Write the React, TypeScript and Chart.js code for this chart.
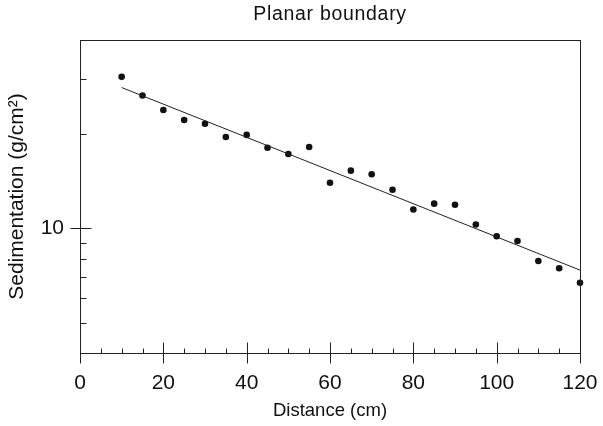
import React, { useEffect, useRef } from "react";
import { Chart, registerables } from "chart.js";

Chart.register(...registerables);

// ---- data ----
const distances = [10, 15, 20, 25, 30, 35, 40, 45, 50, 55, 60, 65, 70, 75, 80, 85, 90, 95, 100, 105, 110, 115, 120];
const sedimentation = [30.5, 26.6, 23.9, 22.2, 21.6, 19.6, 19.9, 18.1, 17.3, 18.2, 14.0, 15.3, 14.9, 13.3, 11.5, 12.0, 11.9, 10.3, 9.44, 9.12, 7.87, 7.46, 6.71];
const fitX = [10, 120];
const fitY = [28.2, 7.36];

const xMajorTicks = [0, 20, 40, 60, 80, 100, 120];
const xMinorTicks = [5, 10, 15, 25, 30, 35, 45, 50, 55, 65, 70, 75, 85, 90, 95, 105, 110, 115];
const yMajorTicks = [10];
const yMinorTicks = [5, 6, 7, 8, 9, 20, 30];

const titleText = "Planar boundary";
const xTitle = "Distance (cm)";
const yTitle = "Sedimentation (g/cm²)";

const FONT = "'Liberation Sans', Arial, Helvetica, sans-serif";
const INK = "#111";

const frameTicks = {
  id: "frameTicks",
  beforeDraw(chart: any) {
    const tb = chart.titleBlock;
    if (tb && !tb.__spaced) {
      const orig = tb.draw;
      tb.draw = function (...args: any[]) {
        const c = chart.ctx as any;
        const prev = c.letterSpacing;
        c.letterSpacing = "0.7px";
        orig.apply(this, args);
        c.letterSpacing = prev || "0px";
      };
      tb.__spaced = true;
    }
  },
  afterDatasetsDraw(chart: any) {
    const { ctx, chartArea: a, scales } = chart;
    const x = scales.x;
    const y = scales.y;
    const r = (v: number) => Math.round(v) + 0.5;
    ctx.save();
    ctx.strokeStyle = "#222";
    ctx.lineWidth = 1;
    ctx.strokeRect(r(a.left), r(a.top), Math.round(a.right) - Math.round(a.left), Math.round(a.bottom) - Math.round(a.top));
    ctx.beginPath();
    const bot = r(a.bottom);
    const lft = r(a.left);
    for (const v of xMajorTicks) {
      const px = r(x.getPixelForValue(v));
      ctx.moveTo(px, bot - 11);
      ctx.lineTo(px, bot + 10);
    }
    for (const v of xMinorTicks) {
      const px = r(x.getPixelForValue(v));
      ctx.moveTo(px, bot - 5);
      ctx.lineTo(px, bot);
    }
    for (const v of yMajorTicks) {
      const py = r(y.getPixelForValue(v));
      ctx.moveTo(lft - 10, py);
      ctx.lineTo(lft + 11, py);
    }
    for (const v of yMinorTicks) {
      const py = r(y.getPixelForValue(v));
      ctx.moveTo(lft, py);
      ctx.lineTo(lft + 6, py);
    }
    ctx.stroke();
    ctx.restore();
  },
};

export default function App() {
  const ref = useRef<HTMLCanvasElement | null>(null);

  useEffect(() => {
    if (!ref.current) return;
    const chart = new Chart(ref.current, {
      type: "scatter",
      data: {
        datasets: [
          {
            label: "fit",
            data: fitX.map((v, i) => ({ x: v, y: fitY[i] })),
            showLine: true,
            borderColor: "#222",
            borderWidth: 1,
            pointRadius: 0,
            fill: false,
          },
          {
            label: "measured",
            data: distances.map((v, i) => ({ x: v, y: sedimentation[i] })),
            backgroundColor: INK,
            borderColor: INK,
            pointRadius: 3.3,
            pointBorderWidth: 0,
            clip: false,
          } as any,
        ],
      },
      options: {
        responsive: false,
        animation: false,
        devicePixelRatio: 1,
        layout: { padding: { left: 0, right: 23, top: 0, bottom: 0 } },
        plugins: {
          legend: { display: false },
          tooltip: { enabled: false },
          title: {
            display: true,
            text: titleText,
            fullSize: false,
            color: INK,
            font: { family: FONT, size: 19.5, weight: "normal" },
            padding: { top: 3, bottom: 13.6 },
          },
        },
        scales: {
          x: {
            type: "linear",
            min: 0,
            max: 120,
            grid: { display: false, drawTicks: false },
            border: { display: false },
            ticks: {
              stepSize: 20,
              color: INK,
              padding: 18,
              maxRotation: 0,
              font: { family: FONT, size: 21 },
            },
            afterBuildTicks: (s: any) => {
              s.ticks = xMajorTicks.map((v) => ({ value: v }));
            },
            title: {
              display: true,
              text: xTitle,
              color: INK,
              font: { family: FONT, size: 18.5 },
              padding: { top: 0, bottom: 4 },
            },
            afterFit: (s: any) => {
              s.height = 73;
              s.paddingLeft = 0;
              s.paddingRight = 0;
            },
          },
          y: {
            type: "logarithmic",
            min: 4,
            max: 40,
            grid: { display: false, drawTicks: false },
            border: { display: false },
            ticks: {
              color: INK,
              padding: 16,
              font: { family: FONT, size: 21 },
              callback: (v: any) => String(v),
            },
            afterBuildTicks: (s: any) => {
              s.ticks = yMajorTicks.map((v) => ({ value: v }));
            },
            title: {
              display: true,
              text: yTitle,
              color: INK,
              font: { family: FONT, size: 21 },
              padding: { top: 5, bottom: 0 },
            },
            afterFit: (s: any) => {
              s.width = 80;
              s.paddingTop = 0;
              s.paddingBottom = 0;
            },
          },
        },
      },
      plugins: [frameTicks],
    } as any);
    return () => chart.destroy();
  }, []);

  return (
    <div style={{ position: "fixed", left: 0, top: 0, width: 603, height: 426, background: "#fff" }}>
      <canvas ref={ref} width={603} height={426} style={{ width: 603, height: 426, display: "block" }} />
    </div>
  );
}
